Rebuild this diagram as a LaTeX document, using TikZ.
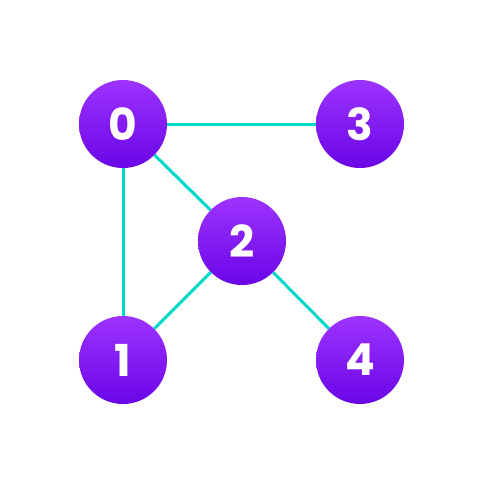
\documentclass[tikz,border=0pt]{standalone}
\usepackage{fontspec}
\setmainfont{Poppins}
\begin{document}
\begin{tikzpicture}[x=1pt,y=-1pt,
  vtx/.style={circle,minimum size=88pt,inner sep=0pt,top color=topv,bottom color=botv,
    text=white,font=\fontsize{44}{44}\selectfont\bfseries},
  edge/.style={draw=teal2,line width=3pt}]
\definecolor{topv}{HTML}{9D33FF}
\definecolor{botv}{HTML}{6A05E6}
\definecolor{teal2}{HTML}{00D8C8}
\useasboundingbox[fill=white] (0,0) rectangle (484,484);
\node[vtx] (n0) at (123,124) {0};
\node[vtx] (n3) at (360,124) {3};
\node[vtx] (n2) at (242,241) {2};
\node[vtx] (n1) at (123,360) {1};
\node[vtx] (n4) at (360,360) {4};
\draw[edge] (n0) -- (n3);
\draw[edge] (n0) -- (n2);
\draw[edge] (n0) -- (n1);
\draw[edge] (n1) -- (n2);
\draw[edge] (n2) -- (n4);
\end{tikzpicture}
\end{document}
